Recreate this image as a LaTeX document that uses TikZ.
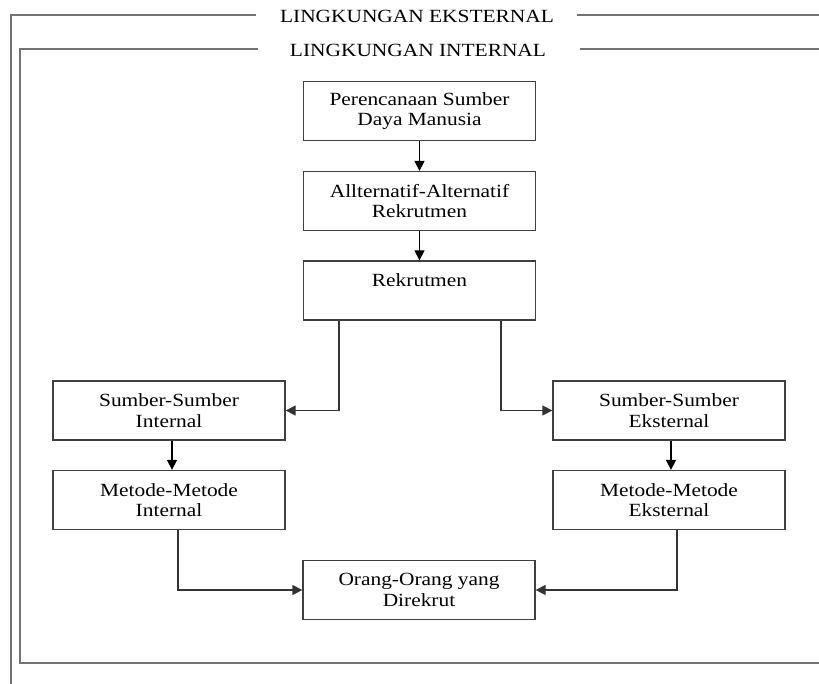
\documentclass[tikz,border=0pt]{standalone}
\usepackage{fontspec}
\setmainfont{Liberation Serif}[FakeStretch=1.15]
\usetikzlibrary{arrows.meta}
\begin{document}
\begin{tikzpicture}[x=1pt,y=-1pt,
  box/.style={draw=black!75, line width=1.3pt, minimum width=232pt, minimum height=59pt,
    inner sep=0pt, align=center, font=\fontsize{18.6}{20.5}\selectfont},
  frame/.style={draw=black!55, line width=2pt},
  title/.style={font=\fontsize{18.6}{20.5}\selectfont, inner sep=0pt},
  conn/.style={draw=black, line width=1.3pt, -{Triangle[length=10pt,width=10pt]}},
  link/.style={draw=black!80, line width=1.3pt, -{Triangle[length=10pt,width=10pt]}}]
\useasboundingbox (0,0) rectangle (819,684);
% frames
\draw[frame] (256,15) -- (11,15) -- (11,684);
\draw[frame] (577,15) -- (819,15);
\node[title] (ext) at (417,16) {LINGKUNGAN EKSTERNAL};
\draw[frame] (258,49) -- (20,49) -- (20,663) -- (819,663);
\draw[frame] (580,49) -- (819,49);
\node[title] (int) at (418,50) {LINGKUNGAN INTERNAL};
% boxes
\node[box] (P) at (419.5,111) {Perencanaan Sumber\\Daya Manusia};
\node[box] (A) at (419.5,201) {Allternatif-Alternatif\\Rekrutmen};
\node[box] (R) at (419.5,290.5) {Rekrutmen\\\phantom{R}};
\node[box] (SI) at (169,410.5) {Sumber-Sumber\\Internal};
\node[box] (SE) at (669,410.5) {Sumber-Sumber\\Eksternal};
\node[box] (MI) at (169,500) {Metode-Metode\\Internal};
\node[box] (ME) at (669,500) {Metode-Metode\\Eksternal};
\node[box] (O) at (419,590) {Orang-Orang yang\\Direkrut};
% connectors
\draw[conn] (P) -- (A);
\draw[conn] (A) -- (R);
\draw[link] ([xshift=-80.5pt]R.south) |- (SI.east);
\draw[link] ([xshift=81.5pt]R.south) |- (SE.west);
\draw[conn] ([xshift=3pt]SI.south) -- ([xshift=3pt]MI.north);
\draw[conn] ([xshift=2pt]SE.south) -- ([xshift=2pt]ME.north);
\draw[link] ([xshift=9pt]MI.south) |- (O.west);
\draw[link] ([xshift=8pt]ME.south) |- (O.east);
\end{tikzpicture}
\end{document}
